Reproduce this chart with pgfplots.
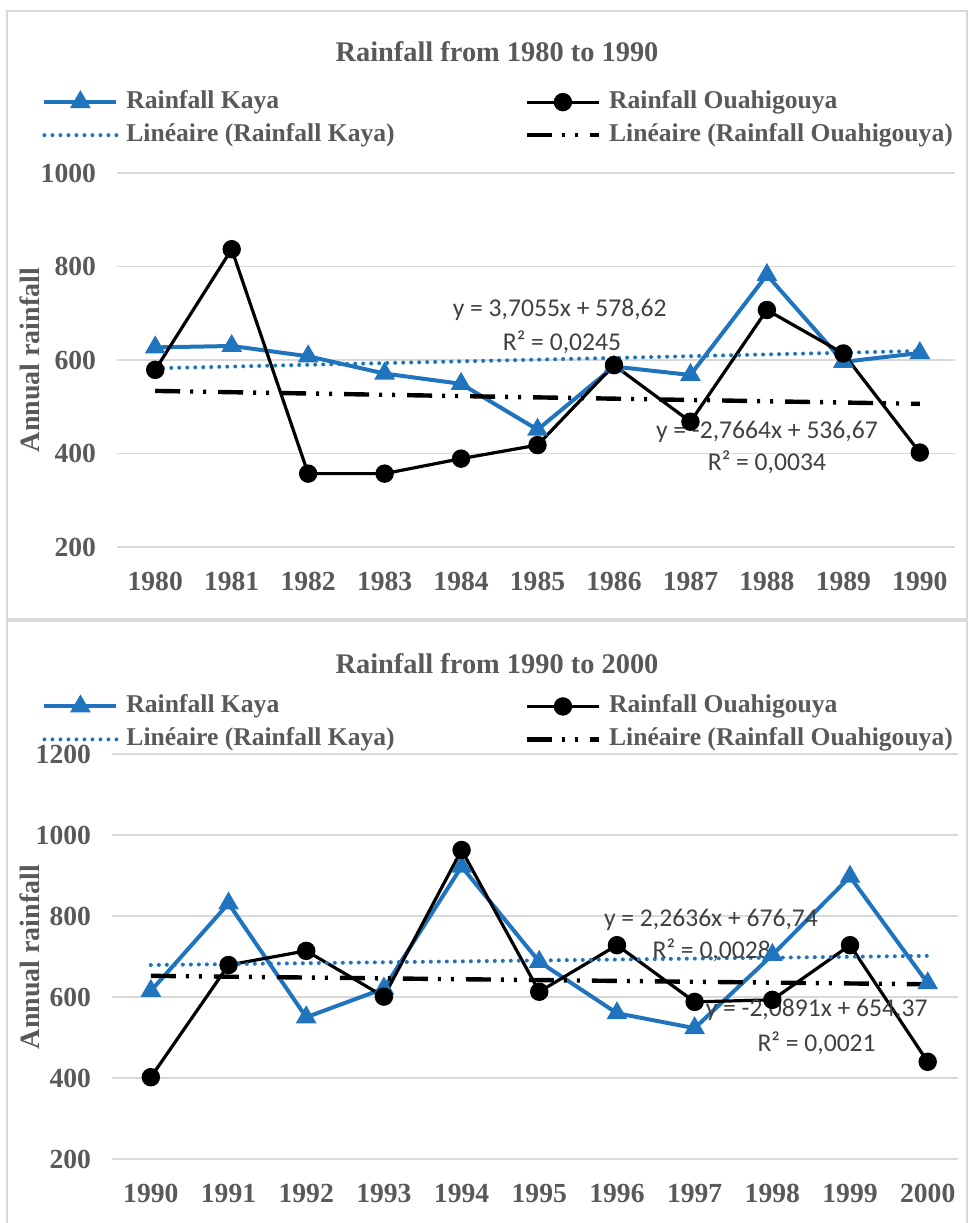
\documentclass[border=0pt]{standalone}
\usepackage{fontspec}
\setmainfont{Liberation Serif}
\newfontfamily\calib{Carlito}
\usepackage{pgfplots}
\usepackage{pgfplotstable}
\pgfplotsset{compat=1.18}
\definecolor{kaya}{RGB}{31,116,189}
\definecolor{txt}{RGB}{89,89,89}
\definecolor{eqc}{RGB}{64,64,64}
\definecolor{gridc}{RGB}{217,217,217}

\pgfplotstableread{
x y
0 627
1 630
2 608
3 571
4 549
5 451
6 586
7 568
8 782
9 596
10 615
}\kayaA
\pgfplotstableread{
x y
0 579
1 837
2 357
3 357
4 389
5 418
6 589
7 468
8 707
9 614
10 402
}\ouaA
\pgfplotstableread{
x y
0 615
1 831
2 550
3 621
4 922
5 687
6 560
7 523
8 704
9 897
10 634
}\kayaB
\pgfplotstableread{
x y
0 402
1 679
2 714
3 601
4 963
5 613
6 728
7 588
8 593
9 728
10 440
}\ouaB

\tikzset{eqlab/.style={font=\calib\fontsize{12.8}{13}\selectfont, text=eqc, inner sep=0pt}}
\pgfplotsset{
  rain/.style={
    scale only axis,
    axis line style={draw=none},
    tick style={draw=none},
    ymajorgrids,
    grid style={gridc, line width=0.8pt},
    xtick={0,...,10},
    /pgf/number format/assume math mode=true,
    /pgf/number format/1000 sep={},
    yticklabel style={font=\bfseries\fontsize{13.8}{14}\selectfont, text=txt, xshift=-7pt},
    xticklabel style={font=\bfseries\fontsize{13.8}{14}\selectfont, text=txt, yshift=-9pt},
    legend columns=2,
    legend cell align=left,
    legend style={draw=none, fill=none, anchor=north west, inner sep=0pt,
      font=\bfseries\fontsize{12.8}{13}\selectfont, text=txt,
      nodes={inner sep=1pt, text height=9pt, text depth=3pt},
      row sep=2.5pt, column sep=3pt,
      /tikz/column 2/.style={column sep=64pt}},
    legend image code/.code={\draw[mark repeat=2,mark phase=2,##1] plot coordinates {(0pt,0pt) (18pt,0pt) (36pt,0pt)};},
    clip=false,
  },
  kayaline/.style={kaya, line width=2pt, mark=triangle*, mark size=4pt, mark options={solid}},
  oualine/.style={black, line width=1.6pt, mark=*, mark size=3.8pt, mark options={solid}},
  kayatrend/.style={kaya, line width=2pt, line cap=round, dash pattern=on 0pt off 4pt},
  ouatrend/.style={black, line width=2.2pt, dash pattern=on 12.5pt off 5pt on 1.5pt off 5pt on 1.5pt off 6pt},
}

\begin{document}
\begin{tikzpicture}
\path[use as bounding box] (0pt,0pt) rectangle (484.5pt,-611.5pt);
\draw[gridc, line width=1pt] (3.5pt,-5.5pt) rectangle (483.5pt,-309.5pt);
\draw[gridc, line width=1pt] (3.5pt,-611.5pt) -- (3.5pt,-310.5pt) -- (483.5pt,-310.5pt) -- (483.5pt,-611.5pt);

% ---------- top panel ----------
\node[anchor=base, font=\bfseries\fontsize{14.2}{15}\selectfont, text=txt] at (248.5pt,-30.5pt) {Rainfall from 1980 to 1990};
\node[rotate=90, font=\bfseries\fontsize{14}{15}\selectfont, text=txt] at (15pt,-180pt) {Annual rainfall};
\begin{axis}[rain,
  at={(58.5pt,-273.5pt)}, anchor=south west,
  width=419pt, height=187pt,
  xmin=-0.5, xmax=10.46, ymin=200, ymax=1000,
  ytick={200,400,...,1000},
  xticklabels={1980,1981,1982,1983,1984,1985,1986,1987,1988,1989,1990},
  legend style={at={(-0.0895,1.2280)}},
]
\addplot[kayaline] table[x=x,y=y] {\kayaA};
\addlegendentry{Rainfall Kaya}
\addplot[oualine] table[x=x,y=y] {\ouaA};
\addlegendentry{Rainfall Ouahigouya}
\addplot[kayatrend] coordinates {(0,582.33) (10,619.38)};
\addlegendentry{Linéaire (Rainfall Kaya)}
\addplot[ouatrend] coordinates {(0,533.90) (10,506.24)};
\addlegendentry{Linéaire (Rainfall Ouahigouya)}
\node[eqlab] at (axis cs:5.29,707) {y = 3,7055x + 578,62};
\node[eqlab] at (axis cs:5.32,639) {R² = 0,0245};
\node[eqlab] at (axis cs:8.0,447) {y = -2,7664x + 536,67};
\node[eqlab] at (axis cs:8.0,382) {R² = 0,0034};
\end{axis}

% ---------- bottom panel ----------
\node[anchor=base, font=\bfseries\fontsize{14.2}{15}\selectfont, text=txt] at (248.5pt,-336.5pt) {Rainfall from 1990 to 2000};
\node[rotate=90, font=\bfseries\fontsize{14}{15}\selectfont, text=txt] at (15pt,-478.5pt) {Annual rainfall};
\begin{axis}[rain,
  at={(56pt,-579.5pt)}, anchor=south west,
  width=423pt, height=202.5pt,
  xmin=-0.5, xmax=10.39, ymin=200, ymax=1200,
  ytick={200,400,...,1200},
  xticklabels={1990,1991,1992,1993,1994,1995,1996,1997,1998,1999,2000},
  legend style={at={(-0.0827,1.153)}},
]
\addplot[kayaline] table[x=x,y=y] {\kayaB};
\addlegendentry{Rainfall Kaya}
\addplot[oualine] table[x=x,y=y] {\ouaB};
\addlegendentry{Rainfall Ouahigouya}
\addplot[kayatrend] coordinates {(0,679.00) (10,701.64)};
\addlegendentry{Linéaire (Rainfall Kaya)}
\addplot[ouatrend] coordinates {(0,652.28) (10,631.39)};
\addlegendentry{Linéaire (Rainfall Ouahigouya)}
\node[eqlab] at (axis cs:7.21,790) {y = 2,2636x + 676,74};
\node[eqlab] at (axis cs:7.22,716) {R² = 0,0028};
\node[eqlab] at (axis cs:8.57,568) {y = -2,0891x + 654,37};
\node[eqlab] at (axis cs:8.57,486) {R² = 0,0021};
\end{axis}
\end{tikzpicture}
\end{document}
